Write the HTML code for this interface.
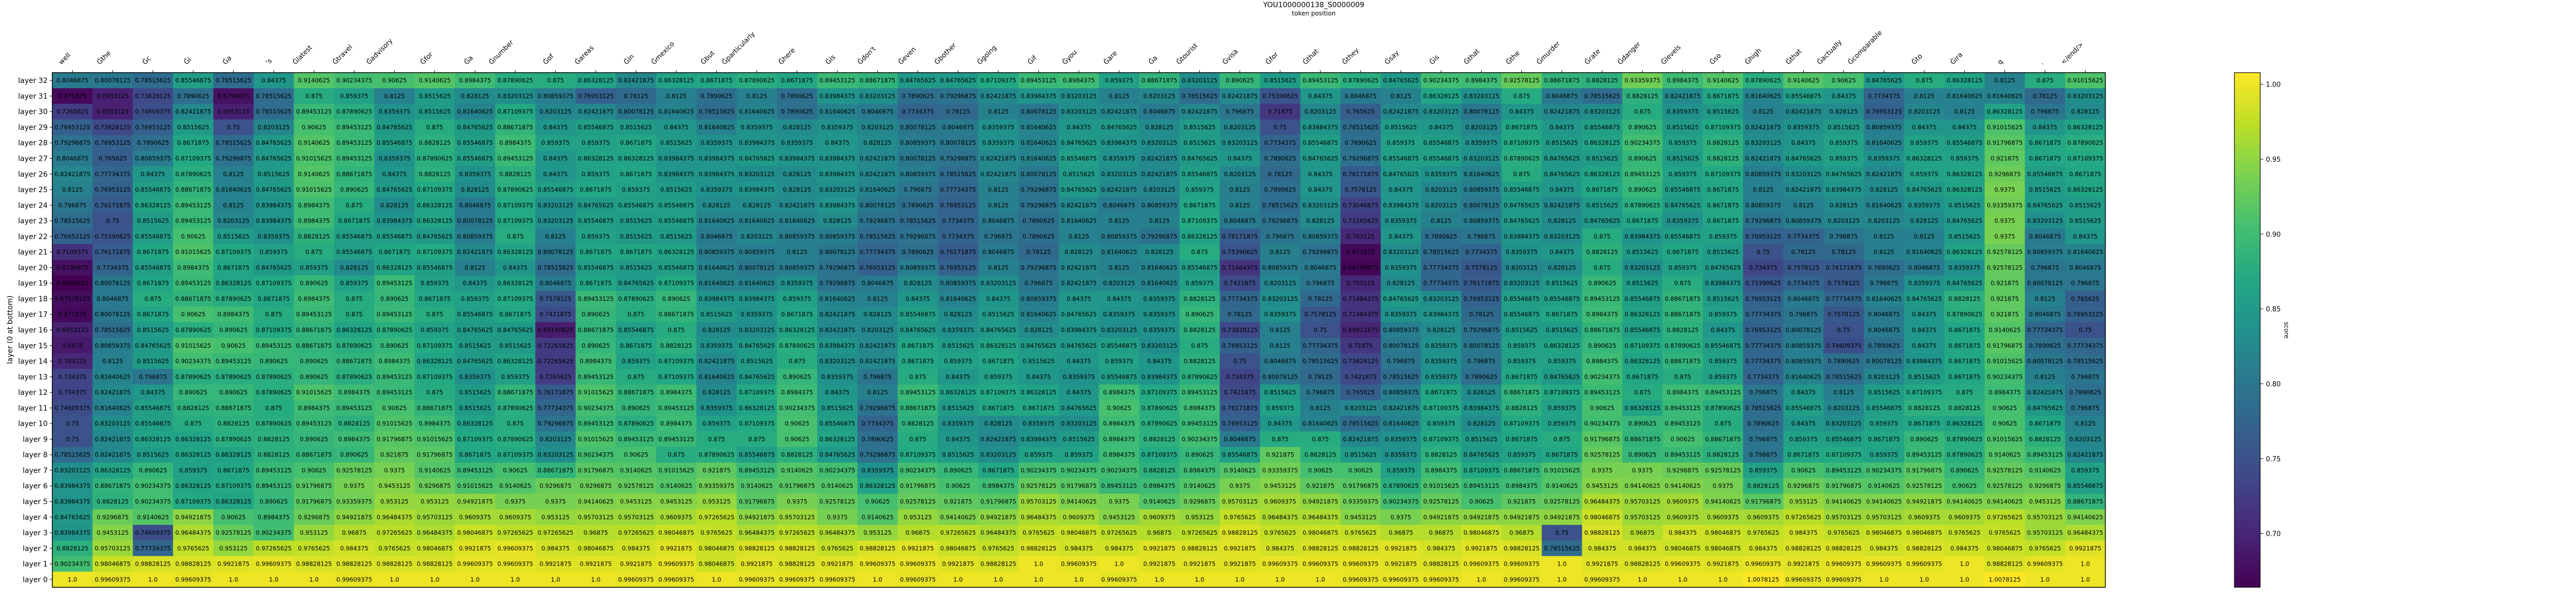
<!DOCTYPE html>
<html><head><meta charset="utf-8">
<style>
html,body{margin:0;padding:0;background:#fff;}
svg{display:block;font-family:"DejaVu Sans","Liberation Sans",sans-serif;}
</style></head>
<body>
<svg id="chart" width="5100" height="1155" viewBox="0 0 5100 1155" xmlns="http://www.w3.org/2000/svg">
<defs>
<linearGradient id="viridis" x1="0" y1="1" x2="0" y2="0">
<stop offset="0" stop-color="#440154"/><stop offset="0.1" stop-color="#482475"/><stop offset="0.2" stop-color="#414487"/><stop offset="0.3" stop-color="#355f8d"/><stop offset="0.4" stop-color="#2a788e"/><stop offset="0.5" stop-color="#21918c"/><stop offset="0.6" stop-color="#22a884"/><stop offset="0.7" stop-color="#44bf70"/><stop offset="0.8" stop-color="#7ad151"/><stop offset="0.9" stop-color="#bddf26"/><stop offset="1" stop-color="#fde725"/>
</linearGradient>
</defs>
<text x="2550" y="14" font-size="14" text-anchor="middle" fill="#000">YOU1000000138_S0000009</text>
<text x="2550" y="30" font-size="12" text-anchor="middle" fill="#000">token position</text>
<text x="0" y="0" font-size="14" text-anchor="middle" transform="translate(24,640) rotate(-90)" fill="#000">layer (0 at bottom)</text>
<g id="cells"></g>
<g id="xticks"></g>
<g id="yticks"></g>
<rect x="101.5" y="141" width="3985" height="999" fill="none" stroke="#000" stroke-width="1.5"/>
<g id="cbar"></g>
</svg>
<script>
const tokens = ["well","Ġthe","Ġc","Ġi","Ġa","'s","Ġlatest","Ġtravel","Ġadvisory","Ġfor","Ġa","Ġnumber","Ġof","Ġareas","Ġin","Ġmexico","Ġbut","Ġparticularly","Ġhere","Ġis","Ġdon't","Ġeven","Ġbother","Ġgoing","Ġif","Ġyou","Ġare","Ġa","Ġtourist","Ġvisa","Ġfor","Ġthat","Ġthey","Ġsay","Ġis","Ġthat","Ġthe","Ġmurder","Ġrate","Ġdanger","Ġlevels","Ġso","Ġhigh","Ġthat","Ġactually","Ġcomparable","Ġto","Ġira","q",".","</end/>"];
const layerLabels = ["layer 32","layer 31","layer 30","layer 29","layer 28","layer 27","layer 26","layer 25","layer 24","layer 23","layer 22","layer 21","layer 20","layer 19","layer 18","layer 17","layer 16","layer 15","layer 14","layer 13","layer 12","layer 11","layer 10","layer 9","layer 8","layer 7","layer 6","layer 5","layer 4","layer 3","layer 2","layer 1","layer 0"];
const cbarTicks = [0.70,0.75,0.80,0.85,0.90,0.95,1.00];
const cbarTickLabels = ["0.70","0.75","0.80","0.85","0.90","0.95","1.00"];
const vmin = 0.6640625, vmax = 1.0078125;
const L32 = [.8046875,.80078125,.78515625,.85546875,.78515625,.84375,.9140625,.90234375,.90625,.9140625, .8984375,.87890625,.875,.86328125,.82421875,.86328125,.8671875,.87890625,.8671875,.89453125, .88671875,.84765625,.84765625,.87109375,.89453125,.8984375,.859375,.88671875,.83203125,.890625, .8515625,.89453125,.87890625,.84765625,.90234375,.8984375,.92578125,.88671875,.8828125,.93359375, .8984375,.9140625,.87890625,.9140625,.90625,.84765625,.875,.86328125,.8125,.875,.91015625];
const L31 = [.671875,.6953125,.73828125,.7890625,.6796875,.78515625,.875,.859375,.8125,.8515625, .828125,.83203125,.80859375,.76953125,.78125,.8125,.7890625,.8125,.7890625,.83984375, .83203125,.7890625,.79296875,.82421875,.83984375,.83203125,.8125,.8203125,.78515625,.82421875, .75390625,.84375,.8046875,.8125,.86328125,.83203125,.875,.8046875,.78515625,.8828125, .82421875,.8671875,.81640625,.85546875,.84375,.7734375,.8125,.81640625,.81640625,.78125,.83203125];
const L30 = [.7265625,.6953125,.74609375,.82421875,.6953125,.78515625,.89453125,.87890625,.8359375,.8515625, .81640625,.87109375,.8203125,.82421875,.80078125,.81640625,.78515625,.81640625,.7890625,.81640625, .8046875,.7734375,.78125,.8125,.80078125,.83203125,.82421875,.8046875,.82421875,.796875, .71875,.8203125,.765625,.82421875,.83203125,.80078125,.84375,.82421875,.83203125,.875, .8359375,.8515625,.8125,.82421875,.828125,.76953125,.8203125,.8125,.86328125,.796875,.828125];
const L29 = [.76953125,.73828125,.76953125,.8515625,.75,.8203125,.90625,.89453125,.84765625,.875, .84765625,.88671875,.84375,.85546875,.8515625,.84375,.81640625,.8359375,.828125,.8359375, .8203125,.80078125,.8046875,.8359375,.81640625,.84375,.84765625,.828125,.8515625,.8203125, .75,.83984375,.78515625,.8515625,.84375,.8203125,.8671875,.84375,.85546875,.890625, .8515625,.87109375,.82421875,.8359375,.8515625,.80859375,.84375,.84375,.91015625,.84375,.86328125];
const L28 = [.79296875,.76953125,.7890625,.8671875,.78515625,.84765625,.9140625,.89453125,.85546875,.8828125, .85546875,.8984375,.859375,.859375,.8671875,.8515625,.8359375,.83984375,.8359375,.84375, .828125,.80859375,.80078125,.8359375,.81640625,.84765625,.83984375,.83203125,.8515625,.83203125, .7734375,.85546875,.7890625,.859375,.85546875,.8359375,.87109375,.8515625,.86328125,.90234375, .859375,.8828125,.83203125,.84375,.859375,.81640625,.859375,.85546875,.91796875,.8671875,.87890625];
const L27 = [.8046875,.765625,.80859375,.87109375,.79296875,.84765625,.91015625,.89453125,.8359375,.87890625, .85546875,.89453125,.84375,.86328125,.86328125,.83984375,.83984375,.84765625,.83984375,.83984375, .82421875,.80078125,.79296875,.82421875,.81640625,.85546875,.8359375,.82421875,.84765625,.84375, .7890625,.84765625,.79296875,.85546875,.85546875,.83203125,.87890625,.84765625,.8515625,.890625, .8515625,.8828125,.82421875,.84765625,.859375,.8359375,.86328125,.859375,.921875,.8671875,.87109375];
const L26 = [.82421875,.77734375,.84375,.87890625,.8125,.8515625,.9140625,.88671875,.84375,.8828125, .8359375,.8828125,.84375,.859375,.8671875,.83984375,.83984375,.83203125,.828125,.83984375, .82421875,.80859375,.78515625,.82421875,.80078125,.8515625,.83203125,.82421875,.85546875,.8203125, .78125,.84375,.76171875,.84765625,.8359375,.81640625,.875,.84765625,.86328125,.89453125, .859375,.87109375,.80859375,.83203125,.84765625,.82421875,.859375,.86328125,.9296875,.85546875,.8671875];
const L25 = [.8125,.76953125,.85546875,.88671875,.81640625,.84765625,.91015625,.890625,.84765625,.87109375, .828125,.87890625,.85546875,.8671875,.859375,.8515625,.8359375,.83984375,.828125,.83203125, .81640625,.796875,.77734375,.8125,.79296875,.84765625,.82421875,.8203125,.859375,.8125, .7890625,.84375,.7578125,.84375,.8203125,.80859375,.85546875,.84375,.8671875,.890625, .85546875,.8671875,.8125,.82421875,.83984375,.828125,.84765625,.86328125,.9375,.8515625,.86328125];
const L24 = [.796875,.76171875,.86328125,.89453125,.8125,.83984375,.8984375,.875,.828125,.86328125, .8046875,.87109375,.83203125,.84765625,.85546875,.85546875,.828125,.828125,.82421875,.83984375, .80078125,.7890625,.76953125,.8125,.79296875,.82421875,.8046875,.80859375,.8671875,.8125, .78515625,.83203125,.73046875,.83984375,.8203125,.80078125,.84765625,.82421875,.8515625,.87890625, .84765625,.8671875,.80859375,.8125,.828125,.81640625,.8359375,.8515625,.93359375,.84765625,.8515625];
const L23 = [.78515625,.75,.8515625,.89453125,.8203125,.83984375,.8984375,.8671875,.83984375,.86328125, .80078125,.87109375,.83203125,.85546875,.8515625,.85546875,.81640625,.81640625,.81640625,.828125, .79296875,.78515625,.7734375,.8046875,.7890625,.81640625,.8125,.8125,.87109375,.8046875, .79296875,.828125,.72265625,.8359375,.8125,.80859375,.84765625,.828125,.84765625,.8671875, .8359375,.8671875,.79296875,.80859375,.8203125,.8203125,.828125,.84765625,.9375,.83203125,.8515625];
const L22 = [.76953125,.75390625,.85546875,.90625,.8515625,.8359375,.8828125,.85546875,.85546875,.84765625, .80859375,.875,.8125,.859375,.8515625,.8515625,.8046875,.8203125,.80859375,.80859375, .78515625,.79296875,.7734375,.796875,.7890625,.8125,.80859375,.79296875,.86328125,.76171875, .796875,.80859375,.703125,.84375,.7890625,.796875,.83984375,.83203125,.875,.83984375, .85546875,.859375,.76953125,.7734375,.796875,.8125,.8125,.8515625,.9375,.8046875,.84375];
const L21 = [.7109375,.76171875,.8671875,.91015625,.87109375,.859375,.875,.85546875,.8671875,.87109375, .82421875,.86328125,.80078125,.8671875,.8671875,.86328125,.80859375,.80859375,.8125,.80078125, .77734375,.7890625,.76171875,.8046875,.78125,.828125,.81640625,.828125,.875,.75390625, .8125,.79296875,.671875,.83203125,.78515625,.7734375,.8359375,.84375,.8828125,.8515625, .8671875,.8515625,.75,.78125,.78125,.8125,.81640625,.86328125,.92578125,.80859375,.81640625];
const L20 = [.6796875,.7734375,.85546875,.8984375,.8671875,.84765625,.859375,.828125,.86328125,.85546875, .8125,.84375,.78515625,.85546875,.8515625,.85546875,.81640625,.80078125,.80859375,.79296875, .76953125,.80859375,.76953125,.8125,.79296875,.82421875,.8125,.81640625,.85546875,.71484375, .80859375,.8046875,.66796875,.8359375,.77734375,.7578125,.8203125,.828125,.875,.83203125, .859375,.84765625,.734375,.7578125,.76171875,.7890625,.8046875,.8359375,.92578125,.796875,.8046875];
const L19 = [.6640625,.80078125,.8671875,.89453125,.86328125,.87109375,.890625,.859375,.89453125,.859375, .84375,.86328125,.8046875,.8671875,.84765625,.87109375,.81640625,.81640625,.8359375,.79296875, .8046875,.828125,.80859375,.83203125,.796875,.82421875,.8203125,.81640625,.859375,.7421875, .8203125,.796875,.703125,.828125,.77734375,.76171875,.83203125,.8515625,.890625,.8515625, .875,.83984375,.75390625,.7734375,.7578125,.796875,.8359375,.84765625,.921875,.80078125,.796875];
const L18 = [.67578125,.8046875,.875,.88671875,.87890625,.8671875,.8984375,.875,.890625,.8671875, .859375,.87109375,.7578125,.89453125,.87890625,.890625,.83984375,.83984375,.859375,.81640625, .8125,.84375,.81640625,.84375,.80859375,.84375,.84375,.8359375,.8828125,.77734375, .83203125,.78125,.71484375,.84765625,.83203125,.76953125,.85546875,.85546875,.89453125,.85546875, .88671875,.8515625,.76953125,.8046875,.77734375,.81640625,.84765625,.8828125,.921875,.8125,.765625];
const L17 = [.671875,.80078125,.8671875,.90625,.8984375,.875,.89453125,.875,.89453125,.875, .85546875,.8671875,.7421875,.890625,.875,.88671875,.8515625,.8359375,.8671875,.82421875, .828125,.85546875,.828125,.8515625,.81640625,.84765625,.8359375,.8359375,.890625,.78125, .8359375,.7578125,.71484375,.8359375,.83984375,.78125,.85546875,.8671875,.8984375,.86328125, .88671875,.859375,.77734375,.796875,.7578125,.8046875,.84375,.87890625,.921875,.8046875,.76953125];
const L16 = [.6953125,.78515625,.8515625,.87890625,.890625,.87109375,.88671875,.86328125,.87890625,.859375, .84765625,.84765625,.69140625,.88671875,.85546875,.875,.828125,.83203125,.86328125,.82421875, .8203125,.84765625,.8359375,.84765625,.828125,.83984375,.83203125,.8359375,.8828125,.73828125, .8125,.75,.69921875,.80859375,.828125,.79296875,.8515625,.8515625,.88671875,.85546875, .8828125,.84375,.76953125,.80078125,.75,.8046875,.84375,.8671875,.9140625,.77734375,.75];
const L15 = [.6875,.80859375,.84765625,.91015625,.90625,.89453125,.88671875,.87890625,.890625,.87109375, .8515625,.8515625,.72265625,.890625,.8671875,.8828125,.8359375,.84765625,.87890625,.83984375, .82421875,.8671875,.8515625,.86328125,.84765625,.84765625,.85546875,.83203125,.875,.76953125, .8125,.77734375,.71875,.80078125,.8359375,.80078125,.859375,.86328125,.890625,.87109375, .87890625,.85546875,.77734375,.80859375,.74609375,.7890625,.84375,.8671875,.91796875,.7890625,.77734375];
const L14 = [.703125,.8125,.8515625,.90234375,.89453125,.890625,.890625,.88671875,.8984375,.86328125, .84765625,.86328125,.72265625,.8984375,.859375,.87109375,.82421875,.8515625,.875,.83203125, .82421875,.8671875,.859375,.8671875,.8515625,.84375,.859375,.84375,.8828125,.75, .8046875,.78515625,.73828125,.796875,.8359375,.796875,.859375,.859375,.8984375,.86328125, .88671875,.859375,.77734375,.80859375,.7890625,.80078125,.83984375,.8671875,.91015625,.80078125,.78515625];
const L13 = [.734375,.81640625,.796875,.87890625,.87890625,.87890625,.890625,.87890625,.89453125,.87109375, .8359375,.859375,.7265625,.89453125,.875,.87109375,.81640625,.84765625,.890625,.8359375, .796875,.875,.84375,.859375,.84375,.8359375,.85546875,.83984375,.87890625,.734375, .80078125,.78125,.7421875,.78515625,.8359375,.7890625,.8671875,.84765625,.90234375,.8671875, .875,.859375,.7734375,.81640625,.78515625,.8203125,.8515625,.8671875,.90234375,.8125,.796875];
const L12 = [.734375,.82421875,.84375,.890625,.890625,.87890625,.91015625,.8984375,.89453125,.875, .8515625,.88671875,.76171875,.91015625,.88671875,.8984375,.828125,.87109375,.8984375,.84375, .8125,.89453125,.86328125,.87109375,.86328125,.84375,.8984375,.87109375,.89453125,.7421875, .8515625,.796875,.765625,.80859375,.8671875,.828125,.88671875,.87109375,.89453125,.875, .8984375,.89453125,.796875,.84375,.8125,.8515625,.87109375,.875,.8984375,.82421875,.7890625];
const L11 = [.74609375,.81640625,.85546875,.8828125,.88671875,.875,.8984375,.89453125,.90625,.88671875, .8515625,.87890625,.77734375,.90234375,.890625,.89453125,.8359375,.86328125,.90234375,.8515625, .79296875,.88671875,.8515625,.8671875,.8671875,.84765625,.90625,.87890625,.8984375,.76171875, .859375,.8125,.8203125,.82421875,.87109375,.83984375,.8828125,.859375,.90625,.86328125, .89453125,.87890625,.78515625,.85546875,.8203125,.85546875,.8828125,.8828125,.90625,.84765625,.796875];
const L10 = [.75,.83203125,.85546875,.875,.8828125,.87890625,.89453125,.8828125,.91015625,.8984375, .86328125,.875,.79296875,.89453125,.87890625,.8984375,.859375,.87109375,.90625,.85546875, .7734375,.8828125,.8359375,.828125,.8359375,.83203125,.8984375,.87890625,.89453125,.76953125, .84375,.81640625,.78515625,.81640625,.859375,.828125,.87109375,.859375,.90234375,.890625, .89453125,.875,.7890625,.84375,.83203125,.859375,.8671875,.86328125,.90625,.8671875,.8125];
const L9 = [.75,.82421875,.86328125,.86328125,.87890625,.8828125,.890625,.8984375,.91796875,.91015625, .87109375,.87890625,.8203125,.91015625,.89453125,.89453125,.875,.875,.90625,.86328125, .7890625,.875,.84375,.82421875,.83984375,.8515625,.8984375,.8828125,.90234375,.8046875, .875,.875,.82421875,.8359375,.87109375,.8515625,.8671875,.875,.91796875,.88671875, .90625,.88671875,.796875,.859375,.85546875,.8671875,.890625,.87890625,.91015625,.8828125,.8203125];
const L8 = [.78515625,.82421875,.8515625,.86328125,.86328125,.8828125,.88671875,.890625,.921875,.91796875, .8671875,.87109375,.83203125,.90234375,.90625,.875,.87890625,.85546875,.8828125,.84765625, .79296875,.87109375,.8515625,.83203125,.859375,.859375,.8984375,.87109375,.890625,.85546875, .921875,.8828125,.8515625,.8359375,.8828125,.84765625,.859375,.8671875,.92578125,.890625, .89453125,.8828125,.796875,.8671875,.87109375,.859375,.89453125,.87890625,.9140625,.89453125,.82421875];
const L7 = [.83203125,.86328125,.890625,.859375,.8671875,.89453125,.90625,.92578125,.9375,.9140625, .89453125,.90625,.88671875,.91796875,.9140625,.91015625,.921875,.89453125,.9140625,.90234375, .8359375,.90234375,.890625,.8671875,.90234375,.90234375,.90234375,.8828125,.8984375,.9140625, .93359375,.90625,.90625,.859375,.8984375,.87109375,.88671875,.91015625,.9375,.9375, .9296875,.92578125,.859375,.90625,.89453125,.90234375,.91796875,.890625,.92578125,.9140625,.859375];
const L6 = [.83984375,.88671875,.90234375,.86328125,.87109375,.89453125,.91796875,.9375,.9453125,.9296875, .91015625,.9140625,.9296875,.9296875,.92578125,.9140625,.93359375,.9140625,.91796875,.9140625, .86328125,.91796875,.90625,.8984375,.92578125,.91796875,.89453125,.8984375,.9140625,.9375, .9453125,.921875,.91796875,.87890625,.91015625,.89453125,.8984375,.9140625,.9453125,.94140625, .94140625,.9375,.8828125,.9296875,.91796875,.9140625,.92578125,.90625,.92578125,.9296875,.85546875];
const L5 = [.83984375,.8828125,.90234375,.87109375,.86328125,.890625,.91796875,.93359375,.953125,.953125, .94921875,.9375,.9375,.94140625,.9453125,.9453125,.953125,.91796875,.9375,.92578125, .90625,.92578125,.921875,.91796875,.95703125,.94140625,.9375,.9140625,.9296875,.95703125, .9609375,.94921875,.93359375,.90234375,.92578125,.90625,.921875,.92578125,.96484375,.95703125, .9609375,.94140625,.91796875,.953125,.94140625,.94140625,.94921875,.94140625,.94140625,.9453125,.88671875];
const L4 = [.84765625,.9296875,.9140625,.94921875,.90625,.8984375,.9296875,.94921875,.96484375,.95703125, .9609375,.9609375,.953125,.95703125,.95703125,.9609375,.97265625,.94921875,.95703125,.9375, .9140625,.953125,.94140625,.94921875,.96484375,.9609375,.9453125,.9609375,.953125,.9765625, .96484375,.96484375,.9453125,.9375,.94921875,.94921875,.94921875,.94921875,.98046875,.95703125, .9609375,.9609375,.9609375,.97265625,.95703125,.95703125,.9609375,.9609375,.97265625,.95703125,.94140625];
const L3 = [.83984375,.9453125,.74609375,.96484375,.92578125,.90234375,.953125,.96875,.97265625,.96484375, .98046875,.97265625,.97265625,.96875,.97265625,.98046875,.9765625,.96484375,.97265625,.96484375, .953125,.96875,.97265625,.96484375,.9765625,.98046875,.97265625,.96875,.97265625,.98828125, .9765625,.98046875,.9765625,.96875,.96875,.98046875,.96875,.75,.98828125,.96875, .984375,.98046875,.9765625,.984375,.9765625,.98046875,.98046875,.9765625,.9765625,.95703125,.96484375];
const L2 = [.8828125,.95703125,.77734375,.9765625,.953125,.97265625,.9765625,.984375,.9765625,.98046875, .9921875,.99609375,.984375,.98046875,.984375,.9921875,.98046875,.98828125,.98828125,.9765625, .98828125,.9921875,.98046875,.9765625,.98828125,.984375,.984375,.9921875,.98828125,.9921875, .984375,.98828125,.98828125,.9921875,.984375,.9921875,.98828125,.78515625,.984375,.984375, .98046875,.98046875,.984375,.98828125,.98828125,.984375,.98828125,.984375,.98046875,.9765625,.9921875];
const L1 = [.90234375,.98046875,.98828125,.98828125,.9921875,.99609375,.98828125,.98828125,.98828125,.98828125, .99609375,.99609375,.9921875,.9921875,.9921875,.99609375,.98046875,.9921875,.98828125,.9921875, .99609375,.99609375,.9921875,.98828125,1.0,.99609375,1.0,.9921875,.9921875,.9921875, .99609375,.99609375,.99609375,.9921875,.98828125,.99609375,.99609375,1.0,.9921875,.98828125, .99609375,.9921875,.99609375,.9921875,.99609375,.99609375,.99609375,1.0,.98828125,.99609375,1.0];
const L0 = [1.0,.99609375,1.0,.99609375,1.0,1.0,1.0,.99609375,1.0,1.0, 1.0,1.0,1.0,1.0,.99609375,.99609375,1.0,.99609375,.99609375,.99609375, 1.0,.99609375,1.0,1.0,1.0,1.0,.99609375,1.0,1.0,1.0, 1.0,1.0,.99609375,.99609375,.99609375,1.0,.99609375,1.0,.99609375,1.0, 1.0,1.0,1.0078125,.99609375,.99609375,1.0,1.0,1.0,1.0078125,1.0,1.0];
const scores = [L32,L31,L30,L29,L28,L27,L26,L25,L24,L23,L22,L21,L20,L19,L18,L17,L16,L15,L14,L13,L12,L11,L10,L9,L8,L7,L6,L5,L4,L3,L2,L1,L0];

const NS = "http://www.w3.org/2000/svg";
const X0 = 101.5, Y0 = 141, W = 3985, H = 999;
const nCols = tokens.length, nRows = layerLabels.length;
const cw = W / nCols, rh = H / nRows;
function xCol(i){ return X0 + i * cw; }
function yRow(j){ return Y0 + j * rh; }
const CB_TOP = 141, CB_BOT = 1140;
function yCbar(v){ return CB_BOT - (v - vmin) / (vmax - vmin) * (CB_BOT - CB_TOP); }

const vir = [[68,1,84],[72,36,117],[65,68,135],[53,95,141],[42,120,142],[33,145,140],[34,168,132],[68,191,112],[122,209,81],[189,223,38],[253,231,37]];
function viridis(t){
  t = Math.max(0, Math.min(1, t));
  const p = t * 10, i = Math.min(9, Math.floor(p)), f = p - i;
  const a = vir[i], b = vir[i+1];
  return "rgb(" + a.map((c,k)=>Math.round(c + (b[k]-c)*f)).join(",") + ")";
}
function fmt(v){ return Number.isInteger(v) ? v.toFixed(1) : String(v); }
function mk(tag, attrs){ const e = document.createElementNS(NS, tag); for (const k in attrs) e.setAttribute(k, attrs[k]); return e; }

const gCells = document.getElementById("cells");
for (let j = 0; j < nRows; j++) {
  for (let i = 0; i < nCols; i++) {
    const v = scores[j][i];
    const r = mk("rect", {x: xCol(i), y: yRow(j), width: cw + 0.6, height: rh + 0.6, fill: viridis((v - vmin) / (vmax - vmin))});
    
    
    gCells.appendChild(r);
    const t = mk("text", {x: xCol(i) + cw / 2, y: yRow(j) + rh / 2 + 4, "font-size": "11.5", "text-anchor": "middle", fill: "#000"});
    t.textContent = fmt(v);
    
    
    gCells.appendChild(t);
  }
}

const gx = document.getElementById("xticks");
for (let i = 0; i < nCols; i++) {
  const cx = xCol(i) + cw / 2;
  const tk = mk("line", {x1: cx, y1: Y0, x2: cx, y2: Y0 - 5, stroke: "#000", "stroke-width": 1});
  
  
  gx.appendChild(tk);
  const t = mk("text", {"font-size": "13", fill: "#000"});
  t.textContent = tokens[i];
  
  
  gx.appendChild(t);
  const L = t.getComputedTextLength();
  const sx = cx - L * 0.7071 - 3, sy = 126;
  t.setAttribute("x", sx); t.setAttribute("y", sy);
  t.setAttribute("transform", "rotate(-45 " + sx + " " + sy + ")");
}

const gy = document.getElementById("yticks");
for (let j = 0; j < nRows; j++) {
  const cy = yRow(j) + rh / 2;
  const tk = mk("line", {x1: X0, y1: cy, x2: X0 - 5, y2: cy, stroke: "#000", "stroke-width": 1});
  
  
  gy.appendChild(tk);
  const t = mk("text", {x: X0 - 9, y: cy + 5, "font-size": "14", "text-anchor": "end", fill: "#000"});
  t.textContent = layerLabels[j];
  
  
  gy.appendChild(t);
}

const gc = document.getElementById("cbar");
const cb = mk("rect", {x: 4337, y: CB_TOP, width: 50, height: CB_BOT - CB_TOP, fill: "url(#viridis)", stroke: "#000", "stroke-width": 1.2});


gc.appendChild(cb);
for (let k = 0; k < cbarTicks.length; k++) {
  const y = yCbar(cbarTicks[k]);
  const tk = mk("line", {x1: 4387, y1: y, x2: 4393, y2: y, stroke: "#000", "stroke-width": 1});
  
  
  gc.appendChild(tk);
  const t = mk("text", {x: 4398, y: y + 5, "font-size": "13", fill: "#000"});
  t.textContent = cbarTickLabels[k];
  
  
  gc.appendChild(t);
}
const sl = mk("text", {x: 0, y: 0, "font-size": "12", "text-anchor": "middle", transform: "translate(4434,641) rotate(90)", fill: "#000"});
sl.textContent = "score";


gc.appendChild(sl);
</script>
</body></html>
